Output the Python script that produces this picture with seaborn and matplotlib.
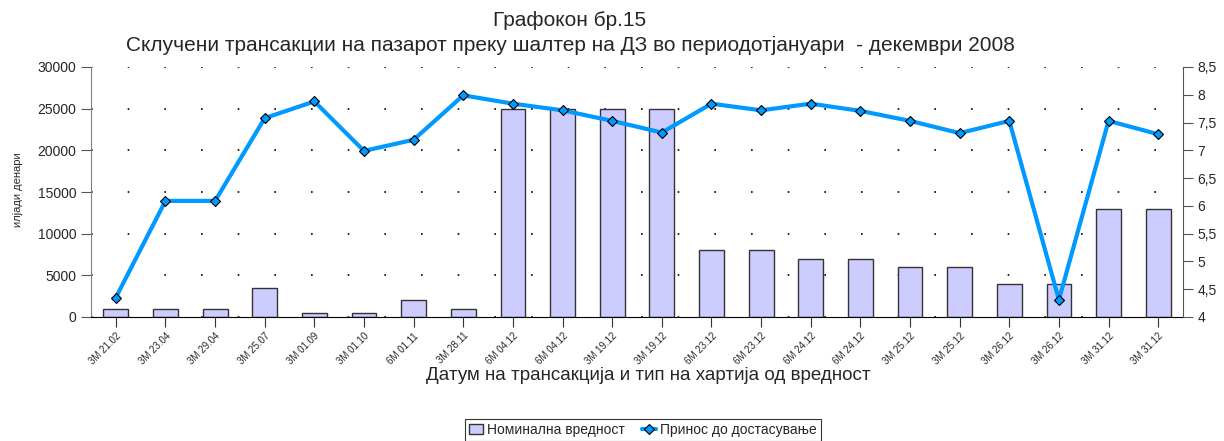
import matplotlib
matplotlib.use('Agg')
import matplotlib.pyplot as plt
from matplotlib.ticker import FuncFormatter
from matplotlib.lines import Line2D
from matplotlib.patches import Patch
import seaborn as sns
import numpy as np

labels = ['3M 21.02', '3M 23.04', '3M 29.04', '3M 25.07', '3M 01.09', '3M 01.10',
          '6M 01.11', '3M 28.11', '6M 04.12', '6M 04.12', '3M 19.12', '3M 19.12',
          '6M 23.12', '6M 23.12', '6M 24.12', '6M 24.12', '3M 25.12', '3M 25.12',
          '3M 26.12', '3M 26.12', '3M 31.12', '3M 31.12']
nominal = [1000, 1000, 1000, 3500, 500, 500, 2000, 1000, 25000, 25000, 25000, 25000,
           8000, 8000, 7000, 7000, 6000, 6000, 4000, 4000, 13000, 13000]
yields = [4.35, 6.09, 6.09, 7.58, 7.88, 6.99, 7.19, 7.99, 7.84, 7.72, 7.53, 7.32,
          7.84, 7.72, 7.84, 7.71, 7.53, 7.31, 7.53, 4.31, 7.53, 7.29]

sns.set_style('white')
plt.rcParams['font.family'] = ['Liberation Sans', 'DejaVu Sans']

bar_color = '#CCCCFF'
line_color = '#0099FF'

fig = plt.figure(figsize=(12.24, 4.41), dpi=100)
ax = fig.add_axes([91 / 1224, 1 - 317 / 441, 1092 / 1224, 250 / 441])
pos = np.arange(len(labels))

sns.barplot(x=pos, y=nominal, ax=ax, color=bar_color, width=0.5,
            edgecolor='#333333', linewidth=1, saturation=1)
ax.set_xlim(-0.5, len(labels) - 0.5)
ax.set_ylim(0, 30000)
ax.set_yticks(range(0, 30001, 5000))
ax.set_xticks(pos)
ax.set_xticklabels(labels, rotation=45, ha='right', rotation_mode='anchor', fontsize=7)
ax.tick_params(axis='y', labelsize=10, length=7, direction='out', left=True, color='#555555')
ax.tick_params(axis='x', length=7, direction='out', bottom=True, color='#333333', pad=3)
ax.yaxis.grid(True, color='black', linestyle=(0, (1, 21)), linewidth=1.2)
ax.set_axisbelow(True)
for s in ['top', 'right']:
    ax.spines[s].set_visible(False)
ax.spines['left'].set_color('#808080')
ax.spines['bottom'].set_color('black')
ax.set_xlabel('')
ax.set_ylabel('')

ax2 = ax.twinx()
sns.lineplot(x=pos, y=yields, ax=ax2, color=line_color, linewidth=3,
             marker='D', markersize=5, markerfacecolor=line_color,
             markeredgecolor='black', markeredgewidth=0.8)
ax2.set_ylim(4, 8.5)
ax2.set_yticks(np.arange(4, 8.51, 0.5))
ax2.yaxis.set_major_formatter(FuncFormatter(lambda v, p: f'{v:g}'.replace('.', ',')))
ax2.tick_params(axis='y', labelsize=10, length=7, direction='out', right=True, color='#555555')
for s in ['top', 'left', 'bottom']:
    ax2.spines[s].set_visible(False)
ax2.spines['right'].set_color('#555555')
ax2.set_ylabel('')
ax2.grid(False)

fig.text(570 / 1224, 1 - 20 / 441, 'Графокон бр.15', ha='center', va='center', fontsize=15)
fig.text(570 / 1224, 1 - 45 / 441,
         'Склучени трансакции на пазарот преку шалтер на ДЗ во периодотјануари  - декември 2008',
         ha='center', va='center', fontsize=15)
fig.text(18 / 1224, 1 - 190 / 441, 'илјади денари', rotation=90, ha='center', va='center', fontsize=8)
fig.text(648 / 1224, 1 - 376 / 441, 'Датум на трансакција и тип на хартија од вредност',
         ha='center', va='center', fontsize=13.5)

handles = [Patch(facecolor=bar_color, edgecolor='#333333', label='Номинална вредност'),
           Line2D([0], [0], color=line_color, linewidth=3, marker='D', markersize=5,
                  markerfacecolor=line_color, markeredgecolor='black', markeredgewidth=0.8,
                  label='Принос до достасување')]
leg = fig.legend(handles=handles, loc='upper center', bbox_to_anchor=(643 / 1224, 1 - 419 / 441),
                 ncol=2, fontsize=10, frameon=True, fancybox=False, edgecolor='black',
                 handlelength=1.0, handletextpad=0.3, columnspacing=1.2, borderpad=0.3,
                 borderaxespad=0)
leg.get_frame().set_linewidth(0.8)

fig.savefig('out.png', dpi=100)
